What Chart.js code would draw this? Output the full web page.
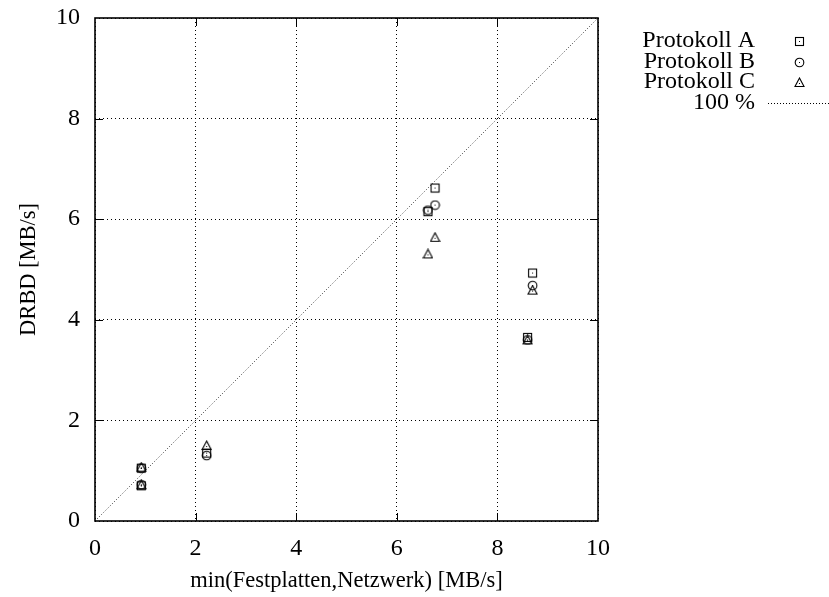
<!DOCTYPE html>
<html>
<head>
<meta charset="utf-8">
<script src="https://cdn.jsdelivr.net/npm/chart.js@4"></script>
<style>
  html, body { margin: 0; padding: 0; background: #fff; }
  #wrap { width: 829px; height: 597px; }
</style>
</head>
<body>
<div id="wrap"><canvas id="myChart" width="829" height="597"></canvas></div>
<script>
// values
var xValues = [0.92, 0.92, 2.22, 6.62, 6.76, 8.60, 8.70];
var protokollA = [1.05, 0.70, 1.35, 6.15, 6.62, 3.65, 4.93];
var protokollB = [1.05, 0.72, 1.30, 6.18, 6.28, 3.60, 4.68];
var protokollC = [1.07, 0.72, 1.50, 5.31, 5.64, 3.60, 4.59];
var seriesLabels = ['Protokoll A', 'Protokoll B', 'Protokoll C', '100 %'];
var axisTicks = [0, 2, 4, 6, 8, 10];

var FONT = '"Liberation Serif", "Times New Roman", serif';
var FSIZE = 24;
var TSIZE = 22.5;

// gnuplot-ish point symbols with a dot in the middle
function makeSymbol(kind) {
    var c = document.createElement('canvas');
    c.width = 11; c.height = 11;
    var g = c.getContext('2d');
    g.strokeStyle = '#000';
    g.lineWidth = 1.1;
    if (kind == 'square') {
        g.strokeRect(1.5, 1.5, 8, 8);
    } else if (kind == 'circle') {
        g.beginPath(); g.arc(5.5, 5.5, 4.3, 0, Math.PI * 2); g.stroke();
    } else {
        g.beginPath(); g.moveTo(5.5, 1); g.lineTo(10, 9.5); g.lineTo(1, 9.5); g.closePath(); g.stroke();
    }
    g.fillStyle = '#000';
    g.fillRect(5, kind == 'triangle' ? 6 : 5, 1, 1);
    return c;
}
var symbols = [makeSymbol('square'), makeSymbol('circle'), makeSymbol('triangle')];

function toPoints(ys) {
    return ys.map(function (y, i) { return { x: xValues[i], y: y }; });
}

// frame, inner tick marks and the key on the right
var framePlugin = {
    id: 'frame',
    afterDatasetsDraw: function (chart) {
        var ctx = chart.ctx, a = chart.chartArea;
        var xs = chart.scales.x, ys = chart.scales.y;
        ctx.save();
        ctx.strokeStyle = '#000';
        ctx.lineWidth = 1;
        axisTicks.forEach(function (t) {
            if (t == 0 || t == 10) return;
            var px = Math.round(xs.getPixelForValue(t)) + 0.5;
            var py = Math.round(ys.getPixelForValue(t)) + 0.5;
            ctx.beginPath();
            ctx.moveTo(px, a.bottom); ctx.lineTo(px, a.bottom - 8);
            ctx.moveTo(px, a.top); ctx.lineTo(px, a.top + 8);
            ctx.moveTo(a.left, py); ctx.lineTo(a.left + 8, py);
            ctx.moveTo(a.right, py); ctx.lineTo(a.right - 8, py);
            ctx.stroke();
        });
        ctx.lineWidth = 1.6;
        ctx.strokeRect(a.left, a.top, a.right - a.left, a.bottom - a.top);

        // key
        ctx.font = FSIZE + 'px ' + FONT;
        ctx.fillStyle = '#000';
        ctx.textAlign = 'right';
        ctx.textBaseline = 'middle';
        var rows = [41, 61.5, 82, 102.5];
        chart.data.datasets.forEach(function (ds, i) {
            ctx.fillText(ds.label, 755, rows[i]);
            if (i < 3) {
                ctx.drawImage(ds.pointStyle, 794, Math.round(rows[i]) - 5);
            } else {
                ctx.lineWidth = 1;
                ctx.setLineDash([1, 2]);
                ctx.beginPath();
                ctx.moveTo(768, Math.round(rows[i]) + 0.5);
                ctx.lineTo(829, Math.round(rows[i]) + 0.5);
                ctx.stroke();
                ctx.setLineDash([]);
            }
        });
        ctx.restore();
    }
};

var ctx = document.getElementById('myChart').getContext('2d');
var myChart = new Chart(ctx, {
    type: 'scatter',
    data: {
        datasets: [{
            label: seriesLabels[0],
            data: toPoints(protokollA),
            pointStyle: symbols[0],
            pointRadius: 5
        }, {
            label: seriesLabels[1],
            data: toPoints(protokollB),
            pointStyle: symbols[1],
            pointRadius: 5
        }, {
            label: seriesLabels[2],
            data: toPoints(protokollC),
            pointStyle: symbols[2],
            pointRadius: 5
        }, {
            type: 'line',
            label: seriesLabels[3],
            data: [{ x: 0, y: 0 }, { x: 10, y: 10 }],
            borderColor: '#333',
            borderWidth: 1,
            borderDash: [1, 2],
            pointRadius: 0,
            fill: false
        }]
    },
    options: {
        responsive: false,
        animation: false,
        layout: { padding: { top: 18, right: 231, left: 0, bottom: 0 } },
        plugins: {
            legend: { display: false },
            tooltip: { enabled: false }
        },
        scales: {
            x: {
                type: 'linear',
                min: 0, max: 10,
                afterBuildTicks: function (s) { s.ticks = axisTicks.map(function (v) { return { value: v }; }); },
                afterFit: function (s) { s.height = 76; s.paddingLeft = 0; s.paddingRight = 0; },
                ticks: { color: '#000', font: { family: FONT, size: FSIZE }, padding: 13 },
                grid: { color: '#000', lineWidth: 1, drawTicks: false },
                border: { display: false, dash: [1, 3] },
                title: {
                    display: true,
                    text: 'min(Festplatten,Netzwerk) [MB/s]',
                    color: '#000',
                    font: { family: FONT, size: TSIZE },
                    padding: { top: 2, bottom: 2 }
                }
            },
            y: {
                type: 'linear',
                min: 0, max: 10,
                afterBuildTicks: function (s) { s.ticks = axisTicks.map(function (v) { return { value: v }; }); },
                afterFit: function (s) { s.width = 95; s.paddingTop = 0; s.paddingBottom = 0; },
                ticks: { color: '#000', font: { family: FONT, size: FSIZE }, padding: 15 },
                grid: { color: '#000', lineWidth: 1, drawTicks: false },
                border: { display: false, dash: [1, 3] },
                title: {
                    display: true,
                    text: 'DRBD [MB/s]',
                    color: '#000',
                    font: { family: FONT, size: TSIZE },
                    padding: { top: 16, bottom: 0 }
                }
            }
        }
    },
    plugins: [framePlugin]
});
</script>
</body>
</html>
